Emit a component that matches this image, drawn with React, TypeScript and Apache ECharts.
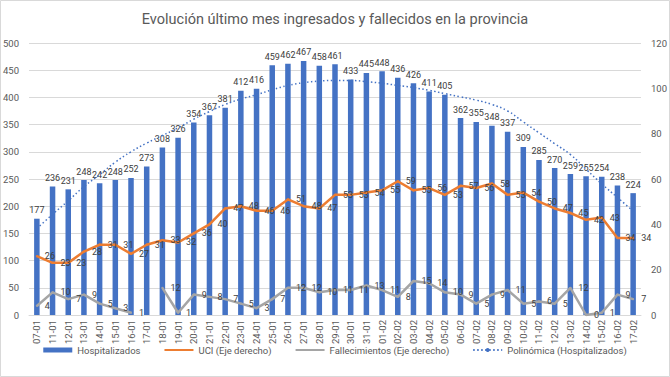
import React, { useEffect, useRef } from "react";
import * as echarts from "echarts";

const categories = [
  "07-01", "11-01", "12-01", "13-01", "14-01", "15-01", "16-01", "17-01", "18-01", "19-01",
  "20-01", "21-01", "22-01", "23-01", "24-01", "25-01", "26-01", "27-01", "28-01", "29-01",
  "30-01", "31-01", "01-02", "02-02", "03-02", "04-02", "05-02", "06-02", "07-02", "08-02",
  "09-02", "10-02", "11-02", "12-02", "13-02", "14-02", "15-02", "16-02", "17-02",
];

const hospitalizados = [
  177, 236, 231, 248, 242, 248, 252, 273, 308, 326,
  354, 367, 381, 412, 416, 459, 462, 467, 458, 461,
  433, 445, 448, 436, 426, 411, 405, 362, 355, 348,
  337, 309, 285, 270, 259, 255, 254, 238, 224,
];

const uci = [
  26, 23, 23, 28, 31, 31, 27, 31, 33, 32,
  36, 40, 47, 48, 46, 46, 51, 48, 47, 53,
  53, 54, 55, 59, 55, 56, 53, 57, 56, 58,
  53, 54, 50, 47, 45, 42, 43, 34, 34,
];

const fallecimientos: (number | null)[] = [
  4, 10, 7, 9, 5, 3, 1, null, 12, 1,
  9, 8, 7, 5, 3, 7, 12, 12, 10, 11,
  11, 13, 11, 8, 15, 14, 10, 9, 5, 9,
  11, 5, 6, 5, 12, 0, 1, 9, 7,
];

// Polynomial trend line values
const polinomica = [
  159, 185, 210, 236, 258, 281, 300, 316, 330, 344,
  360, 374, 387, 397, 405, 414, 422, 427, 430, 431,
  431, 429, 426, 422, 418, 413, 407, 401, 395, 387,
  375, 355, 335, 315, 295, 268, 241, 216, 191,
];

const leftTicks = { min: 0, max: 500, interval: 50 };
const rightTicks = { min: 0, max: 120, interval: 20 };

const FONT = "Roboto, 'Liberation Sans', sans-serif";

export default function App() {
  const ref = useRef<HTMLDivElement>(null);

  useEffect(() => {
    if (!ref.current) return;
    const chart = echarts.init(ref.current, undefined, { renderer: "svg" });
    const labelStyle = { fontSize: 9, color: "#404040", fontFamily: FONT };
    chart.setOption({
      animation: false,
      backgroundColor: "#ffffff",
      textStyle: { fontFamily: FONT },
      title: {
        text: "Evolución último mes ingresados y fallecidos en la provincia",
        left: "center",
        top: 7,
        textStyle: { fontSize: 14.5, fontWeight: "normal", color: "#595959", fontFamily: FONT },
      },
      graphic: [
        {
          type: "rect",
          shape: { x: 0.5, y: 0.5, width: 669, height: 376 },
          style: { fill: "none", stroke: "#d9d9d9", lineWidth: 1 },
          silent: true,
          z: -1,
        },
      ],
      legend: {
        bottom: 17,
        left: "center",
        itemWidth: 29,
        itemHeight: 5,
        itemGap: 23,
        textStyle: { fontSize: 9.5, color: "#595959", fontFamily: FONT },
        data: [
          { name: "Hospitalizados", icon: "rect" },
          { name: "UCI (Eje derecho)", itemStyle: { opacity: 0 } },
          { name: "Fallecimientos (Eje derecho)", itemStyle: { opacity: 0 } },
          { name: "Polinómica (Hospitalizados)" },
        ],
      },
      grid: { left: 28, right: 28, top: 43, bottom: 62, containLabel: false },
      xAxis: {
        type: "category",
        data: categories,
        axisLine: { lineStyle: { color: "#d9d9d9" } },
        axisTick: { show: false },
        axisLabel: { rotate: 90, fontSize: 9.5, color: "#595959", margin: 5, interval: 0, fontFamily: FONT },
      },
      yAxis: [
        {
          type: "value",
          ...leftTicks,
          axisLine: { show: false },
          axisTick: { show: false },
          splitLine: { lineStyle: { color: "#d9d9d9" } },
          axisLabel: { fontSize: 9.5, color: "#595959", margin: 10, fontFamily: FONT },
        },
        {
          type: "value",
          ...rightTicks,
          axisLine: { show: false },
          axisTick: { show: false },
          splitLine: { show: false },
          axisLabel: { fontSize: 9.5, color: "#595959", margin: 10, fontFamily: FONT },
        },
      ],
      series: [
        {
          name: "Hospitalizados",
          type: "bar",
          data: hospitalizados,
          barWidth: 5.5,
          itemStyle: { color: "#4472C4" },
          label: { show: true, position: "top", distance: 4, ...labelStyle },
          z: 1,
        },
        {
          name: "UCI (Eje derecho)",
          type: "line",
          yAxisIndex: 1,
          data: uci,
          symbol: "circle",
          symbolSize: 2,
          itemStyle: { color: "#ED7D31" },
          lineStyle: { color: "#ED7D31", width: 2.5 },
          label: { show: true, position: "right", distance: 7, ...labelStyle },
          z: 3,
        },
        {
          name: "Fallecimientos (Eje derecho)",
          type: "line",
          yAxisIndex: 1,
          data: fallecimientos,
          connectNulls: false,
          symbol: "circle",
          symbolSize: 2,
          itemStyle: { color: "#A5A5A5" },
          lineStyle: { color: "#A5A5A5", width: 2.5 },
          label: { show: true, position: "right", distance: 7, ...labelStyle },
          z: 3,
        },
        {
          name: "Polinómica (Hospitalizados)",
          type: "line",
          data: polinomica,
          symbol: "none",
          smooth: true,
          itemStyle: { color: "#4472C4" },
          lineStyle: { color: "#4472C4", width: 1.5, type: [1.5, 2.5] },
          z: 2,
        },
      ],
    });
    return () => chart.dispose();
  }, []);

  return (
    <div
      ref={ref}
      style={{ position: "fixed", left: 0, top: 0, width: 670, height: 377 }}
    />
  );
}
